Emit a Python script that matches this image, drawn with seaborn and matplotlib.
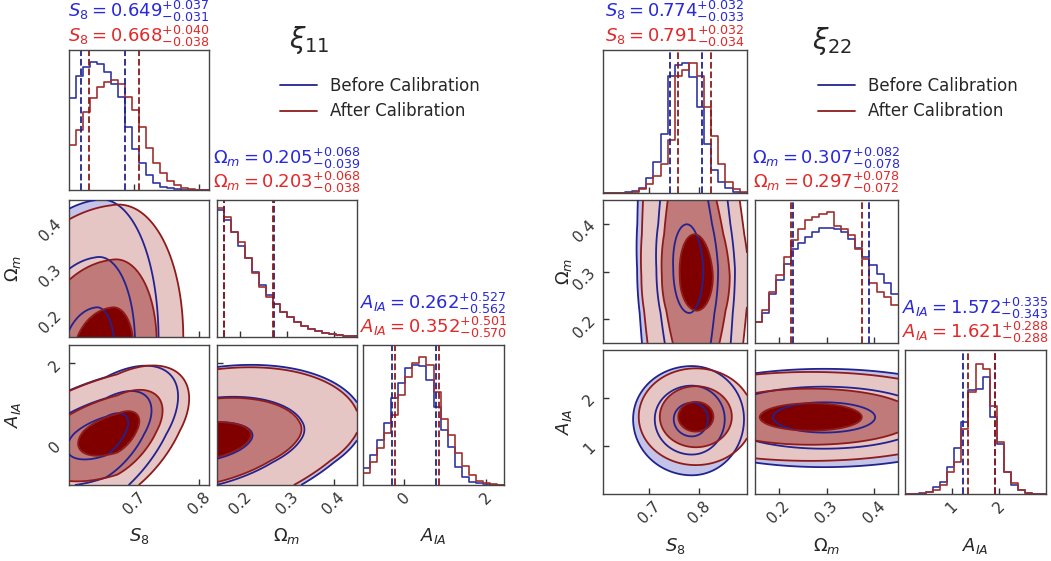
import numpy as np
import pandas as pd
import matplotlib
matplotlib.use("Agg")
import matplotlib.pyplot as plt
from matplotlib.lines import Line2D
import seaborn as sns

sns.set_theme(style="ticks")
plt.rcParams["font.family"] = ["DejaVu Sans"]
plt.rcParams["mathtext.fontset"] = "dejavusans"

# ---------------------------------------------------------------- data
SERIES = ["Before Calibration", "After Calibration"]
PARAM_SYMBOLS = [r"S_8", r"\Omega_m", r"A_{IA}"]
AXIS_LABELS = [r"$S_8$", r"$\Omega_m$", r"$A_{IA}$"]

# xi_11 sample
XI11_RANGES = [(0.60, 0.815), (0.15, 0.45), (-1.0, 2.45)]
XI11_TICKS = [[0.7, 0.8], [0.2, 0.3, 0.4], [0, 2]]
XI11_MEDIAN_BEFORE = [0.649, 0.205, 0.262]
XI11_PLUS_BEFORE = [0.037, 0.068, 0.527]
XI11_MINUS_BEFORE = [0.031, 0.039, 0.562]
XI11_MEDIAN_AFTER = [0.668, 0.203, 0.352]
XI11_PLUS_AFTER = [0.040, 0.068, 0.501]
XI11_MINUS_AFTER = [0.038, 0.038, 0.570]

# 1D marginals (20 bins across each range, normalised to panel height)
XI11_HIST_S8_BEFORE = [0.655, 0.817, 0.881, 0.912, 0.898, 0.840, 0.755, 0.667, 0.452, 0.293,
                       0.190, 0.107, 0.052, 0.024, 0.012, 0.007, 0.003, 0.002, 0.001, 0.0]
XI11_HIST_S8_AFTER = [0.321, 0.429, 0.560, 0.655, 0.738, 0.769, 0.786, 0.755, 0.667, 0.571,
                      0.452, 0.298, 0.190, 0.119, 0.064, 0.036, 0.017, 0.007, 0.003, 0.001]
XI11_HIST_OM_BEFORE = [0.927, 0.854, 0.764, 0.664, 0.574, 0.477, 0.380, 0.307, 0.238, 0.185,
                       0.144, 0.107, 0.080, 0.058, 0.041, 0.029, 0.019, 0.012, 0.007, 0.004]
XI11_HIST_OM_AFTER = [0.939, 0.873, 0.764, 0.696, 0.574, 0.465, 0.367, 0.294, 0.238, 0.185,
                      0.144, 0.107, 0.080, 0.058, 0.041, 0.029, 0.019, 0.012, 0.007, 0.004]
XI11_HIST_AIA_BEFORE = [0.119, 0.214, 0.321, 0.440, 0.619, 0.726, 0.833, 0.857, 0.850, 0.750,
                        0.560, 0.393, 0.274, 0.131, 0.060, 0.024, 0.012, 0.005, 0.002, 0.0]
XI11_HIST_AIA_AFTER = [0.088, 0.167, 0.262, 0.369, 0.500, 0.643, 0.774, 0.869, 0.912, 0.857,
                       0.667, 0.469, 0.357, 0.226, 0.136, 0.071, 0.031, 0.012, 0.005, 0.0]

# 2D posteriors: centre x, centre y, sigma x (low, high), sigma y (low, high),
# correlation, upper shear, tail exponent in y (beyond one sigma)
XI11_S8_OM_BEFORE = [0.640, 0.110, 0.050, 0.030, 0.105, 0.105, 0.10, 0.0, 2.0]
XI11_S8_OM_AFTER = [0.665, 0.115, 0.058, 0.034, 0.105, 0.100, 0.10, 0.0, 2.0]
XI11_S8_AIA_BEFORE = [0.657, 0.25, 0.060, 0.034, 0.62, 0.52, 0.55, 0.0, 2.0]
XI11_S8_AIA_AFTER = [0.674, 0.32, 0.060, 0.034, 0.60, 0.50, 0.50, 0.0, 2.0]
XI11_OM_AIA_BEFORE = [0.12, 0.08, 0.106, 0.106, 0.52, 0.47, 0.30, 0.0, 1.7]
XI11_OM_AIA_AFTER = [0.12, 0.10, 0.103, 0.103, 0.50, 0.45, 0.30, 0.0, 1.7]

# xi_22 sample
XI22_RANGES = [(0.608, 0.895), (0.15, 0.45), (0.0, 3.0)]
XI22_TICKS = [[0.7, 0.8], [0.2, 0.3, 0.4], [1, 2]]
XI22_MEDIAN_BEFORE = [0.774, 0.307, 1.572]
XI22_PLUS_BEFORE = [0.032, 0.082, 0.335]
XI22_MINUS_BEFORE = [0.033, 0.078, 0.343]
XI22_MEDIAN_AFTER = [0.791, 0.297, 1.621]
XI22_PLUS_AFTER = [0.032, 0.078, 0.288]
XI22_MINUS_AFTER = [0.034, 0.072, 0.288]

XI22_HIST_S8_BEFORE = [0.0, 0.0, 0.002, 0.008, 0.014, 0.033, 0.103, 0.219, 0.410, 0.820,
                       0.897, 0.907, 0.810, 0.600, 0.345, 0.160, 0.080, 0.033, 0.010, 0.003]
XI22_HIST_S8_AFTER = [0.0, 0.0, 0.0, 0.003, 0.010, 0.030, 0.060, 0.120, 0.200, 0.370,
                      0.820, 0.860, 0.910, 0.820, 0.600, 0.400, 0.200, 0.080, 0.030, 0.010]
XI22_HIST_OM_BEFORE = [0.145, 0.210, 0.340, 0.440, 0.550, 0.657, 0.700, 0.740, 0.774, 0.807,
                       0.807, 0.797, 0.774, 0.727, 0.662, 0.600, 0.545, 0.480, 0.420, 0.343]
XI22_HIST_OM_AFTER = [0.145, 0.228, 0.360, 0.476, 0.604, 0.720, 0.800, 0.860, 0.883, 0.902,
                      0.914, 0.818, 0.800, 0.755, 0.660, 0.590, 0.417, 0.360, 0.324, 0.266]
XI22_HIST_AIA_BEFORE = [0.0, 0.0, 0.007, 0.016, 0.050, 0.085, 0.190, 0.317, 0.500, 0.720,
                        0.730, 0.810, 0.537, 0.350, 0.155, 0.062, 0.028, 0.009, 0.002, 0.0]
XI22_HIST_AIA_AFTER = [0.0, 0.0, 0.003, 0.012, 0.028, 0.062, 0.155, 0.220, 0.450, 0.710,
                       0.900, 0.866, 0.610, 0.360, 0.155, 0.074, 0.028, 0.009, 0.002, 0.0]

XI22_S8_OM_BEFORE = [0.780, 0.305, 0.032, 0.028, 0.092, 0.094, 0.0, -0.05, 1.2]
XI22_S8_OM_AFTER = [0.795, 0.290, 0.034, 0.032, 0.072, 0.088, 0.0, -0.05, 1.2]
XI22_S8_AIA_BEFORE = [0.785, 1.56, 0.036, 0.032, 0.36, 0.34, 0.0, 0.0, 2.0]
XI22_S8_AIA_AFTER = [0.793, 1.61, 0.035, 0.035, 0.31, 0.31, 0.0, 0.0, 2.0]
XI22_OM_AIA_BEFORE = [0.295, 1.60, 0.107, 0.107, 0.32, 0.31, 0.0, 0.0, 2.0]
XI22_OM_AIA_AFTER = [0.267, 1.60, 0.107, 0.107, 0.28, 0.29, 0.0, 0.0, 2.0]

# ---------------------------------------------------------------- style
BLUE_TEXT, RED_TEXT = "#2828dc", "#e22828"
BLUE_LINE, RED_LINE = "#23238f", "#8e1b1b"
BLUE_HIST, RED_HIST = "#3136a3", "#a03030"
BLUE_FILLS = ["#1e1e7a", "#8c8cc8", "#c4c4e8"]
RED_FILLS = ["#800000", "#c07a7a", "#e6c5c5"]
SIGMA_LEVELS = [1.0, 2.05, 3.25]

W, H = 1051, 561
fig = plt.figure(figsize=(W / 100, H / 100), dpi=100)


def make_axes(cols, rows):
    grid = {}
    for i, (y0, y1) in enumerate(rows):
        for j, (x0, x1) in enumerate(cols):
            if j > i:
                continue
            grid[(i, j)] = fig.add_axes([x0 / W, 1 - y1 / H, (x1 - x0) / W, (y1 - y0) / H])
    return grid


def split_radius(params, xr, yr, n=320):
    mx, my, sxl, sxh, syl, syh, rho, shear, py = params
    X, Y = np.meshgrid(np.linspace(*xr, n), np.linspace(*yr, n))
    dy = Y - my
    dx = X - mx - shear * np.maximum(dy, 0.0)
    u = np.where(dx < 0, dx / sxl, dx / sxh)
    v = np.where(dy < 0, dy / syl, dy / syh)
    # Gaussian core, adjustable tails outside one sigma
    av = np.abs(v)
    v = np.where(av > 1, np.sign(v) * av ** (py / 2.0), v)
    r2 = (u * u - 2 * rho * u * v + v * v) / (1 - rho ** 2)
    return X, Y, r2


def style_axes(ax):
    for s in ax.spines.values():
        s.set_color("#444444")
        s.set_linewidth(1.0)
    ax.tick_params(direction="in", length=4, width=1, colors="#333333", labelsize=11)


def draw_corner(cols, rows, ranges, ticks, hists, medians, pluses, minuses, pairs,
                title, title_xy, legend_xy, label_dx):
    axes = make_axes(cols, rows)
    lev = [0.0] + [s * s for s in SIGMA_LEVELS]
    for (i, j), ax in axes.items():
        style_axes(ax)
        if i == j:
            lo, hi = ranges[i]
            nb = len(hists[i][0])
            centers = lo + (np.arange(nb) + 0.5) * (hi - lo) / nb
            for k, color in enumerate([BLUE_HIST, RED_HIST]):
                df = pd.DataFrame({"value": centers, "height": hists[i][k]})
                sns.histplot(data=df, x="value", weights="height", bins=nb,
                             binrange=(lo, hi), element="step",
                             fill=False, color=color, linewidth=1.2, ax=ax)
            for k, color in enumerate([BLUE_LINE, RED_LINE]):
                m = medians[k][i]
                for q in (m - minuses[k][i], m + pluses[k][i]):
                    ax.axvline(q, color=color, ls="--", lw=1.3)
            ax.set_ylim(0, 1)
            ax.set_yticks([])
            ax.set_ylabel("")
            ax.set_xlim(lo, hi)
            ax.set_xticks(ticks[i])
            # credible-interval titles above each marginal
            offsets = (33, 8) if i == 0 else (36, 12)
            for k, (color, dy) in enumerate([(BLUE_TEXT, offsets[0]), (RED_TEXT, offsets[1])]):
                txt = (rf"${PARAM_SYMBOLS[i]} = {medians[k][i]:.3f}"
                       rf"^{{+{pluses[k][i]:.3f}}}_{{-{minuses[k][i]:.3f}}}$")
                ax.annotate(txt, xy=(0.5, 1.0), xycoords="axes fraction",
                            xytext=(0, dy), textcoords="offset pixels",
                            ha="center", va="baseline", color=color, fontsize=13)
        else:
            xr, yr = ranges[j], ranges[i]
            p_before, p_after = pairs[(i, j)]
            Xb, Yb, rb = split_radius(p_before, xr, yr)
            Xa, Ya, ra = split_radius(p_after, xr, yr)
            ax.contourf(Xb, Yb, rb, levels=lev, colors=BLUE_FILLS, zorder=1)
            ax.contourf(Xa, Ya, ra, levels=lev, colors=RED_FILLS, zorder=2)
            ax.contour(Xb, Yb, rb, levels=lev[1:], colors=BLUE_LINE, linewidths=1.3, zorder=3)
            ax.contour(Xa, Ya, ra, levels=lev[1:], colors=RED_LINE, linewidths=1.3, zorder=4)
            ax.set_xlim(*xr)
            ax.set_ylim(*yr)
            ax.set_xticks(ticks[j])
            ax.set_yticks(ticks[i])
        # labels only on the outer edge of the triangle
        if i == 2:
            ax.set_xlabel(AXIS_LABELS[j], fontsize=13)
            ax.xaxis.set_label_coords(0.5, -0.29)
            for t in ax.get_xticklabels():
                t.set_rotation(45)
        else:
            ax.set_xticklabels([])
            ax.set_xlabel("")
        if j == 0 and i > 0:
            ax.set_ylabel(AXIS_LABELS[i], fontsize=13)
            ax.yaxis.set_label_coords(label_dx, 0.5)
            for t in ax.get_yticklabels():
                t.set_rotation(45)
        elif i != j:
            ax.set_yticklabels([])
    fig.text(title_xy[0] / W, 1 - title_xy[1] / H, title, fontsize=20,
             ha="center", va="center")
    handles = [Line2D([], [], color=BLUE_LINE, lw=1.3), Line2D([], [], color=RED_LINE, lw=1.3)]
    fig.legend(handles, SERIES, loc="upper left",
               bbox_to_anchor=(legend_xy[0] / W, 1 - legend_xy[1] / H),
               frameon=False, fontsize=12, handlelength=2.2, handletextpad=0.8,
               labelspacing=0.45, borderpad=0, borderaxespad=0)


def pack(h_b, h_a):
    return [h_b, h_a]


draw_corner(
    cols=[(69, 209), (217, 357), (363, 504)],
    rows=[(50, 190), (200, 337), (345, 485)],
    ranges=XI11_RANGES, ticks=XI11_TICKS,
    hists=[pack(XI11_HIST_S8_BEFORE, XI11_HIST_S8_AFTER),
           pack(XI11_HIST_OM_BEFORE, XI11_HIST_OM_AFTER),
           pack(XI11_HIST_AIA_BEFORE, XI11_HIST_AIA_AFTER)],
    medians=[XI11_MEDIAN_BEFORE, XI11_MEDIAN_AFTER],
    pluses=[XI11_PLUS_BEFORE, XI11_PLUS_AFTER],
    minuses=[XI11_MINUS_BEFORE, XI11_MINUS_AFTER],
    pairs={(1, 0): (XI11_S8_OM_BEFORE, XI11_S8_OM_AFTER),
           (2, 0): (XI11_S8_AIA_BEFORE, XI11_S8_AIA_AFTER),
           (2, 1): (XI11_OM_AIA_BEFORE, XI11_OM_AIA_AFTER)},
    title=r"$\xi_{11}$", title_xy=(309, 40), legend_xy=(280, 77), label_dx=-0.33)

draw_corner(
    cols=[(603, 747), (755, 898), (905, 1046)],
    rows=[(50, 193), (200, 343), (350, 494)],
    ranges=XI22_RANGES, ticks=XI22_TICKS,
    hists=[pack(XI22_HIST_S8_BEFORE, XI22_HIST_S8_AFTER),
           pack(XI22_HIST_OM_BEFORE, XI22_HIST_OM_AFTER),
           pack(XI22_HIST_AIA_BEFORE, XI22_HIST_AIA_AFTER)],
    medians=[XI22_MEDIAN_BEFORE, XI22_MEDIAN_AFTER],
    pluses=[XI22_PLUS_BEFORE, XI22_PLUS_AFTER],
    minuses=[XI22_MINUS_BEFORE, XI22_MINUS_AFTER],
    pairs={(1, 0): (XI22_S8_OM_BEFORE, XI22_S8_OM_AFTER),
           (2, 0): (XI22_S8_AIA_BEFORE, XI22_S8_AIA_AFTER),
           (2, 1): (XI22_OM_AIA_BEFORE, XI22_OM_AIA_AFTER)},
    title=r"$\xi_{22}$", title_xy=(832, 41), legend_xy=(818, 77), label_dx=-0.2)

fig.savefig("out.png", dpi=100)
